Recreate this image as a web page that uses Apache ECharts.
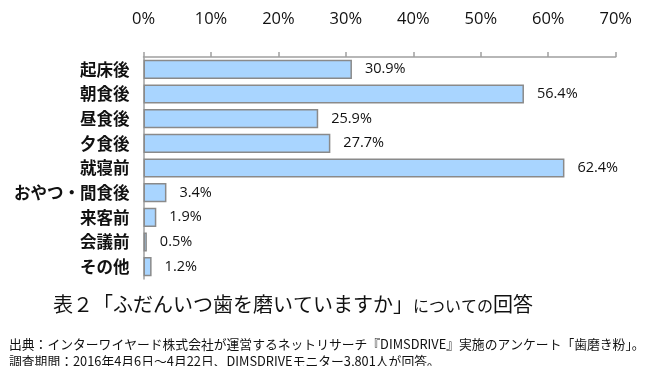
<!DOCTYPE html>
<html><head><meta charset="utf-8">
<script src="https://cdn.jsdelivr.net/npm/echarts@6/dist/echarts.min.js"></script>
<style>html,body{margin:0;padding:0;background:#fff}#c{width:646px;height:366px}</style>
</head><body><div id="c"></div>
<script>
var categories = ['起床後','朝食後','昼食後','夕食後','就寝前','おやつ・間食後','来客前','会議前','その他'];
var values = [30.9, 56.4, 25.9, 27.7, 62.4, 3.4, 1.9, 0.5, 1.2];
var axisMin = 0, axisMax = 70, axisInterval = 10;
var titleMain = '表２「ふだんいつ歯を磨いていますか」';
var titleSmall = 'についての';
var titleEnd = '回答';
var note1 = '出典：インターワイヤード株式会社が運営するネットリサーチ『DIMSDRIVE』実施のアンケート「歯磨き粉」。';
var note2 = '調査期間：2016年4月6日～4月22日、DIMSDRIVEモニター3,801人が回答。';

var chart = echarts.init(document.getElementById('c'));
chart.setOption({
  animation: false,
  backgroundColor: '#fff',
  title: [{
    text: '{a|' + titleMain + '}{b|' + titleSmall + '}{a|' + titleEnd + '}',
    left: 48, top: 289,
    textStyle: { rich: {
      a: { fontFamily: 'Noto Sans CJK JP', fontSize: 20, fontWeight: 'normal', color: '#111' },
      b: { fontFamily: 'Noto Sans CJK JP', fontSize: 16, fontWeight: 'normal', color: '#111', padding: [3,0,0,0] }
    } }
  }, {
    text: note1 + '\n' + note2,
    left: 4, top: 331,
    textStyle: { fontFamily: 'Noto Sans CJK JP', fontSize: 12.8, color: '#111', fontWeight: 'normal', lineHeight: 17 }
  }],
  grid: { left: 143.5, right: 30.3, top: 57, height: 222, containLabel: false },
  xAxis: {
    type: 'value', position: 'top', min: axisMin, max: axisMax, interval: axisInterval,
    axisLine: { show: true, lineStyle: { color: '#a0a0a0', width: 1.5 } },
    axisTick: { show: true, length: 5, lineStyle: { color: '#a0a0a0', width: 1.5 } },
    splitLine: { show: false },
    axisLabel: { formatter: '{value}%', margin: 29, fontFamily: 'Open Sans', fontSize: 16.5, color: '#111' }
  },
  yAxis: {
    type: 'category', data: categories, inverse: true,
    axisLine: { show: true, lineStyle: { color: '#a0a0a0', width: 1.5 } },
    axisTick: { show: false },
    axisLabel: { margin: 14, fontFamily: 'Noto Sans CJK JP', fontWeight: 'bold', fontSize: 16.5, color: '#111' }
  },
  series: [{
    type: 'bar', data: values, barCategoryGap: '22%',
    itemStyle: { color: '#a9d5ff', borderColor: '#8a8a8a', borderWidth: 1.5 },
    label: { show: true, position: 'right', distance: 13, formatter: function(p){ return p.value.toFixed(1) + '%'; },
      fontFamily: 'Open Sans', fontSize: 14.5, color: '#111' }
  }]
});
</script></body></html>
